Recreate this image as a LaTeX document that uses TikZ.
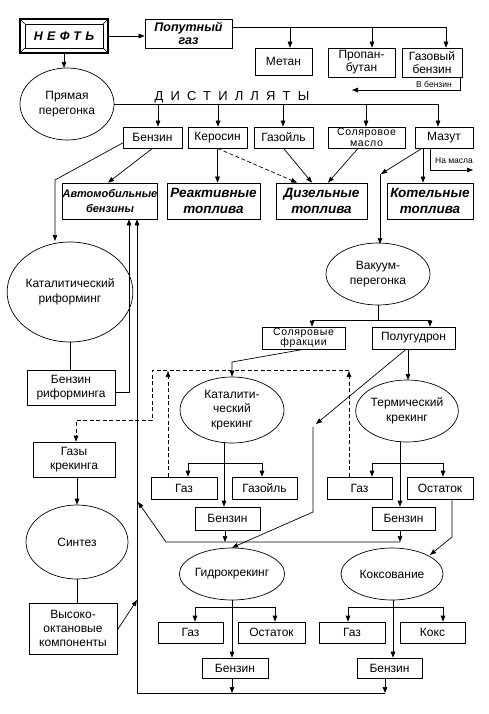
\documentclass[tikz,border=0pt]{standalone}
\usepackage{fontspec}
\setmainfont{Liberation Sans}
\usetikzlibrary{arrows.meta,shapes.geometric}
\begin{document}
\begin{tikzpicture}[x=1pt,y=-1pt,line width=0.7pt,
  arr/.style={-{Triangle[length=6pt,width=4.6pt]}},
  dsh/.style={dash pattern=on 4pt off 2.5pt},
  tbox/.style={draw,rectangle,inner sep=0pt,align=center,font=\fontsize{12}{14}\selectfont},
  sbox/.style={tbox,font=\fontsize{11}{11.5}\selectfont},
  bbox/.style={tbox,font=\bfseries\itshape\fontsize{13.5}{16}\selectfont},
  ell/.style={draw,ellipse,inner sep=0pt,align=center,font=\fontsize{12}{14.5}\selectfont},
  small/.style={font=\fontsize{8.5}{9}\selectfont,inner sep=0pt}]
\useasboundingbox (0,0) rectangle (488,714);
\fill[white] (0,0) rectangle (488,714);

% ---- top row
\node[draw,rectangle,line width=1.2pt,minimum width=88pt,minimum height=34pt,inner sep=0pt,
  font=\bfseries\itshape\fontsize{12.5}{13}\selectfont\addfontfeature{LetterSpace=35}] (neft) at (64,36) {НЕФТЬ};
\draw (25,24) rectangle (103,48);
\draw (20,19) -- (25,24) (108,19) -- (103,24) (20,53) -- (25,48) (108,53) -- (103,48);
\node[bbox,minimum width=87pt,minimum height=29pt,font=\bfseries\itshape\fontsize{12.5}{13}\selectfont] (pop) at (188.5,33.5) {Попутный\\газ};
\node[tbox,minimum width=57pt,minimum height=27pt] (metan) at (283.5,61.5) {Метан};
\node[tbox,minimum width=67pt,minimum height=29pt,font=\fontsize{12}{13}\selectfont] (propan) at (361.5,62.5) {Пропан-\\бутан};
\node[tbox,minimum width=60pt,minimum height=29pt,font=\fontsize{12}{13}\selectfont] (gazben) at (432,62.5) {Газовый\\бензин};
\node[small] (vbenz) at (434,84) {В бензин};

\node[ell,minimum width=94pt,minimum height=72pt] (pryam) at (67,104) {Прямая\\перегонка};
\node[inner sep=0pt,font=\fontsize{13}{13}\selectfont\addfontfeature{LetterSpace=55}] (dist) at (232,97) {ДИСТИЛЛЯТЫ};

% ---- distillates
\node[tbox,minimum width=59pt,minimum height=21pt] (benz1) at (152.5,137.5) {Бензин};
\node[tbox,minimum width=59pt,minimum height=21pt] (keros) at (217.5,137.5) {Керосин};
\node[tbox,minimum width=59pt,minimum height=21pt] (gazoil) at (283.5,137.5) {Газойль};
\node[sbox,minimum width=77pt,minimum height=21pt,font=\fontsize{10.5}{10.5}\selectfont\addfontfeature{LetterSpace=6}] (solm) at (366.5,137.5) {Соляровое\\масло};
\node[tbox,minimum width=58pt,minimum height=21pt] (mazut) at (444,137.5) {Мазут};
\node[small] (namasla) at (454,161) {На масла};

% ---- fuels
\node[bbox,minimum width=94pt,minimum height=36pt,font=\bfseries\itshape\fontsize{11}{15}\selectfont] (avto) at (110,201) {Автомобильные\\бензины};
\node[bbox,minimum width=93pt,minimum height=36pt] (react) at (213.5,201) {Реактивные\\топлива};
\node[bbox,minimum width=91pt,minimum height=36pt] (dizel) at (321.5,201) {Дизельные\\топлива};
\node[bbox,minimum width=86pt,minimum height=36pt] (kotel) at (430,201) {Котельные\\топлива};

% ---- left column
\node[ell,minimum width=103pt,minimum height=100pt] (catref) at (70,292) {Каталитический\\риформинг};
\node[tbox,minimum width=88pt,minimum height=35pt] (benzref) at (71,387.5) {Бензин\\риформинга};
\node[tbox,minimum width=82pt,minimum height=35pt] (gazkr) at (74,459.5) {Газы\\крекинга};
\node[ell,minimum width=102pt,minimum height=74pt] (sintez) at (77,542) {Синтез};
\node[tbox,minimum width=88pt,minimum height=51pt] (vys) at (73,628.5) {Высоко-\\октановые\\компоненты};

% ---- vacuum branch
\node[ell,minimum width=104pt,minimum height=62pt,font=\fontsize{12}{15}\selectfont] (vac) at (378,274) {Вакуум-\\перегонка};
\node[sbox,minimum width=83pt,minimum height=22pt,font=\fontsize{10.5}{10.5}\selectfont\addfontfeature{LetterSpace=6}] (solfr) at (303.5,338) {Соляровые\\фракции};
\node[tbox,minimum width=83pt,minimum height=22pt] (polug) at (413.5,338) {Полугудрон};

\node[ell,minimum width=104pt,minimum height=66pt] (catcr) at (232,410) {Каталити-\\ческий\\крекинг};
\node[ell,minimum width=102pt,minimum height=62pt,font=\fontsize{12}{15}\selectfont] (thcr) at (407,411) {Термический\\крекинг};

\node[tbox,minimum width=66pt,minimum height=22pt] (gaz1) at (184,488) {Газ};
\node[tbox,minimum width=65pt,minimum height=22pt] (gazoil2) at (264.5,488) {Газойль};
\node[tbox,minimum width=65pt,minimum height=22pt] (gaz2) at (359.5,488) {Газ};
\node[tbox,minimum width=66pt,minimum height=22pt] (ost1) at (440,488) {Остаток};
\node[tbox,minimum width=65pt,minimum height=23pt] (benz2) at (227.5,518.5) {Бензин};
\node[tbox,minimum width=63pt,minimum height=23pt] (benz3) at (403.5,518.5) {Бензин};

\node[ell,minimum width=104pt,minimum height=52pt] (hydro) at (232,574) {Гидрокрекинг};
\node[ell,minimum width=102pt,minimum height=52pt] (koks) at (392,574) {Коксование};

\node[tbox,minimum width=65pt,minimum height=21pt] (gaz3) at (190.5,632.5) {Газ};
\node[tbox,minimum width=67pt,minimum height=21pt] (ost2) at (271.5,632.5) {Остаток};
\node[tbox,minimum width=66pt,minimum height=21pt] (gaz4) at (352,632.5) {Газ};
\node[tbox,minimum width=65pt,minimum height=21pt] (koks2) at (432.5,632.5) {Кокс};
\node[tbox,minimum width=66pt,minimum height=20pt] (benz4) at (235,668) {Бензин};
\node[tbox,minimum width=65pt,minimum height=20pt] (benz5) at (389.5,668) {Бензин};

% ================= connectors
\draw[arr] (neft.east) -- (neft.east -| pop.west);
\draw (pop.east |- 0,27) -- (446,27);
\draw[arr] (290,27) -- (290,27 |- metan.north);
\draw[arr] (372,27) -- (372,27 |- propan.north);
\draw[arr] (446,27) -- (446,27 |- gazben.north);
\draw[arr] (460,0 |- gazben.south) -- (460,90) -- (352,90);
\draw[arr] (neft.south) -- (neft.south |- 0,68);

\draw (pryam.east) -- (438,104);
\foreach \xx/\nn in {158/benz1,218/keros,283/gazoil,366/solm,438/mazut}
  \draw[arr] (\xx,104) -- (\xx,104 |- \nn.north);

\draw[arr] (benz1.south) -- (108,0 |- avto.north);
\draw[arr] (benz1.west |- 0,143) -- (55,180) -- (55,241);
\draw[arr] (keros.south) -- (keros.south |- react.north);
\draw[arr,dsh] (keros.south) -- (297,0 |- dizel.north);
\draw[arr] (gazoil.south) -- (312,0 |- dizel.north);
\draw[arr] (358,0 |- solm.south) -- (328,0 |- dizel.north);
\draw[arr] (422,0 |- mazut.south) -- (381,174);
\draw[arr] (380,174) -- (380,244);
\draw[arr] (423,0 |- mazut.south) -- (423,0 |- kotel.north);
\draw[arr] (430,0 |- mazut.south) -- (430,170) -- (473,170);

\draw (catref.south) -- (catref.south |- benzref.north);
\draw[arr] (benzref.east |- 0,392) -- (129,392) -- (129,0 |- avto.south);

% vacuum
\draw (vac.south) -- (378,320);
\draw[arr] (378,320) -- (312,320) -- (312,0 |- solfr.north);
\draw[arr] (378,320) -- (430,320) -- (430,0 |- polug.north);
\draw[arr] (solfr.south) -- (232,362) -- (catcr.north);
\draw[arr] (408,0 |- polug.south) -- (408,380);
\draw[arr] (406,0 |- polug.south) -- (316,424);
\draw[arr] (313,427) -- (313,512) -- (hydro.north);

% catalytic cracking
\draw[arr] (224,443) -- (224,0 |- benz2.north);
\draw[arr] (224,463) -- (188,463) -- (188,0 |- gaz1.north);
\draw[arr] (224,463) -- (262,463) -- (262,0 |- gazoil2.north);
% thermal cracking
\draw[arr] (400,442) -- (400,0 |- benz3.north);
\draw[arr] (400,463) -- (372,463) -- (372,0 |- gaz2.north);
\draw[arr] (400,463) -- (443,463) -- (443,0 |- ost1.north);
\draw[arr] (452,0 |- ost1.south) -- (452,537) -- (430,555);

% dashed gas lines
\draw[arr,dsh] (168,0 |- gaz1.north) -- (168,371);
\draw[arr,dsh] (349,0 |- gaz2.north) -- (349,371);
\draw[arr,dsh] (349,370) -- (152,370) -- (152,420) -- (76,420) -- (76,0 |- gazkr.north);

% cracking gasoline collector
\draw[arr] (225,0 |- benz2.south) -- (225,542);
\draw[arr] (400,0 |- benz3.south) -- (400,542);
\draw[arr] (400,542) -- (166,542) -- (138,502);

% left column
\draw[arr] (77,0 |- gazkr.south) -- (sintez.north);
\draw (sintez.south) -- (sintez.south |- vys.north);
\draw[arr] (vys.east |- 0,630) -- (137,600);

% hydrocracking
\draw[arr] (hydro.south) -- (232,0 |- benz4.north);
\draw[arr] (232,607) -- (195,607) -- (195,0 |- gaz3.north);
\draw[arr] (232,607) -- (275,607) -- (275,0 |- ost2.north);
% coking
\draw[arr] (393,600) -- (393,0 |- benz5.north);
\draw[arr] (393,607) -- (348,607) -- (348,0 |- gaz4.north);
\draw[arr] (393,607) -- (443,607) -- (443,0 |- koks2.north);

% bottom collector
\draw[arr] (232,0 |- benz4.south) -- (232,693);
\draw[arr] (385,0 |- benz5.south) -- (385,693);
\draw[arr] (385,693) -- (137,693) -- (137,0 |- avto.south);
\end{tikzpicture}
\end{document}
